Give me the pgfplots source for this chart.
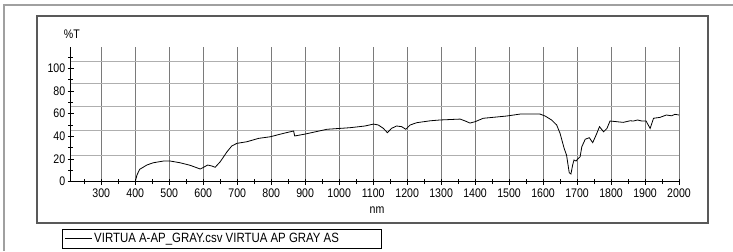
\documentclass[border=0pt]{standalone}
\usepackage{fontspec}
\setmainfont{Liberation Sans}[FakeStretch=0.85]
\usepackage{pgfplots}
\pgfplotsset{compat=1.18}
\definecolor{vgrid}{HTML}{7A7A7A}
\definecolor{hgrid}{HTML}{AFAFAF}
\definecolor{frame}{HTML}{A0A0A0}
\begin{document}
\begin{tikzpicture}[x=1bp,y=1bp]
\path[use as bounding box] (0,0) rectangle (733,251);
\draw[frame, line width=1.2bp] (4,0) -- (4,246) -- (733,246);
\draw[black!65, line width=1.2bp] (37,28) rectangle (708,235);
\begin{axis}[
  at={(70.7bp,69.3bp)}, anchor=south west,
  scale only axis, width=608.3bp, height=135bp,
  xmin=210, xmax=2000, ymin=0, ymax=119,
  axis x line=bottom, axis y line=left,
  axis line style={-, black, line width=0.8bp},
  xtick={300,400,...,2000}, minor xtick={250,350,...,1950},
  ytick={0,20,...,100}, minor ytick={10,30,...,110},
  tick align=center, major tick length=6bp, minor tick length=5bp,
  tick style={black, line width=0.6bp},
  xmajorgrids=true, ymajorgrids=false,
  x grid style={vgrid, line width=0.7bp},
  y grid style={hgrid, line width=1.1bp},
  extra y ticks={22.9,44.9,66.4,86.3,106.3},
  extra y tick labels={},
  extra y tick style={grid=major, major tick length=0pt},
  /pgf/number format/assume math mode=true,
  /pgf/number format/1000 sep={},
  ticklabel style={font=\fontsize{12.5}{12.5}\selectfont},
  xticklabel style={yshift=-1bp},
  yticklabel style={xshift=1bp},
  xlabel={nm},
  xlabel style={at={(axis description cs:0.5035,-0.2096)}, anchor=center, font=\fontsize{12.5}{12.5}\selectfont},
  ylabel={\%T},
  ylabel style={rotate=-90, at={(axis description cs:0.002,1.094)}, anchor=center, font=\fontsize{12.5}{12.5}\selectfont},
  legend style={at={(axis description cs:-0.0143,-0.35)}, anchor=north west, draw=black, line width=0.8bp,
    font=\fontsize{13.5}{13.5}\selectfont, inner xsep=2bp, inner ysep=2bp},
  legend image code/.code={\draw[#1, line width=0.8bp] (0bp,0bp) -- (27bp,0bp);},
  legend cell align=left,
]
\addplot[black, line width=0.8bp] coordinates {
(400,0) (405,5.9) (413,10.9) (434,14.7) (453,16.7) (483,18.2) (503,18.2) (532,16.7)
(562,14.4) (591,11.2) (601,12.7) (613,14.7) (626,13.8) (635,12.7) (650,17.6) (670,26.4)
(684,31.5) (699,33.8) (728,35.2) (763,38.2) (797,39.6) (836,42.6) (866,44.7) (869,40.3)
(900,42) (964,46.2) (1032,47.6) (1076,49.1) (1101,50.8) (1115,50) (1130,47) (1142,43.2)
(1154,47) (1169,49.1) (1184,48.5) (1196,46.2) (1209,50) (1228,52) (1268,53.7) (1297,54.4)
(1356,55.2) (1371,53.5) (1385,51.7) (1400,52.9) (1424,55.9) (1493,57.9) (1532,59.6) (1591,59.6)
(1606,57.9) (1625,54.4) (1640,50) (1650,42.6) (1662,29.4) (1669,23.5) (1677,7.9) (1682,6.8)
(1687,14.7) (1691,19.1) (1697,18.2) (1701,19.7) (1709,22) (1714,30.8) (1724,37.4) (1736,38.8)
(1746,34.4) (1756,41.1) (1766,48.5) (1778,44) (1788,47) (1797,53.5) (1836,52.3) (1856,53.7)
(1866,53.5) (1878,54.4) (1890,53.5) (1903,53.5) (1915,47) (1925,55.9) (1944,56.7) (1963,58.8)
(1978,58.1) (1988,59.4) (2000,58.8)
};
\addlegendentry{\makebox[283bp][l]{VIRTUA A-AP\_GRAY.csv VIRTUA AP GRAY AS}}
\end{axis}
\end{tikzpicture}
\end{document}
